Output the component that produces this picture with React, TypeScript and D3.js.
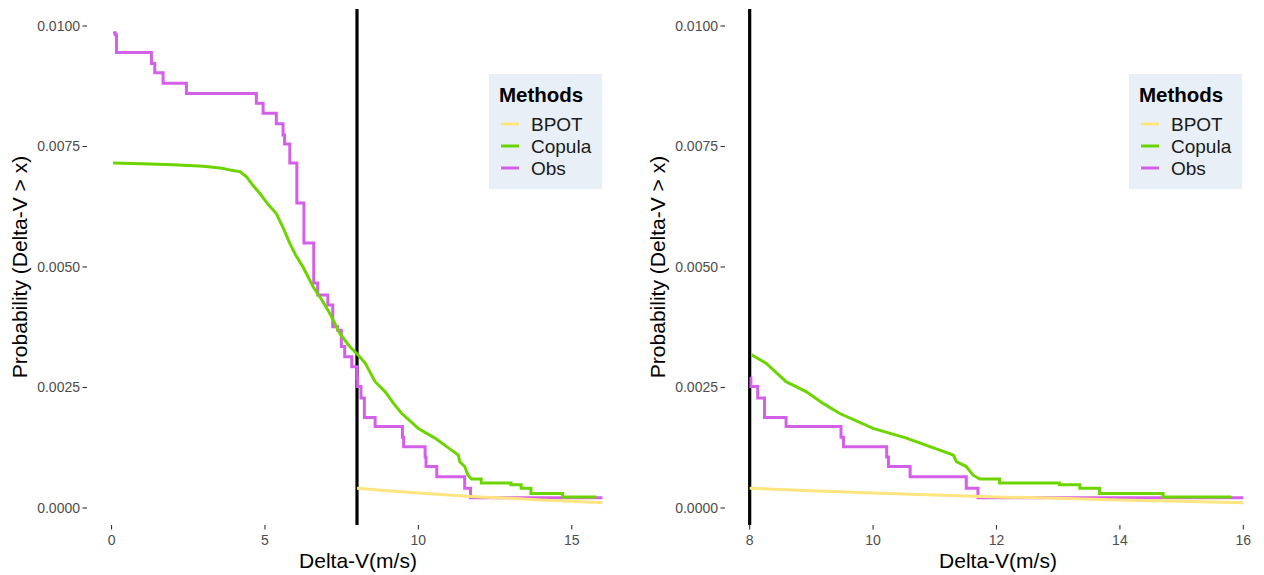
import React from "react";
import * as d3 from "d3";

// ---- data ----
const obsX = [0.05, 0.12, 0.16, 1.30, 1.41, 1.68, 2.44, 4.72, 4.94, 5.37, 5.59, 5.64, 5.81, 6.04, 6.27, 6.59, 6.72, 7.05, 7.21, 7.37, 7.49, 7.60, 7.83, 8.0, 8.02, 8.13, 8.24, 8.59, 9.48, 9.52, 10.22, 10.25, 10.6, 11.51, 11.70, 16.0];
const obsP = [0.00986, 0.00982, 0.00945, 0.00922, 0.00903, 0.00881, 0.0086, 0.0084, 0.00819, 0.00797, 0.00774, 0.00755, 0.00716, 0.00633, 0.0055, 0.00467, 0.00442, 0.00421, 0.00376, 0.00369, 0.00335, 0.00314, 0.00293, 0.00269, 0.00252, 0.00228, 0.00188, 0.00169, 0.00147, 0.00127, 0.00106, 0.00086, 0.00065, 0.00041, 0.00021, 0.00021];

const copX = [0.05, 1.0, 2.0, 3.0, 3.6, 3.95, 4.18, 4.4, 4.6, 4.83, 5.1, 5.37, 5.6, 5.81, 6.0, 6.24, 6.57, 6.85, 7.11, 7.44, 7.76, 8.03, 8.27, 8.59, 8.92, 9.19, 9.46, 10.0, 10.54, 11.08, 11.30, 11.35, 11.51, 11.62, 11.73, 12.05, 12.05, 13.02, 13.02, 13.35, 13.35, 13.67, 13.67, 14.7, 14.7, 15.8];
const copP = [0.00716, 0.00714, 0.00712, 0.00709, 0.00705, 0.007, 0.00698, 0.00687, 0.0067, 0.00653, 0.0063, 0.00611, 0.0058, 0.00549, 0.00525, 0.005, 0.00459, 0.00432, 0.00404, 0.00362, 0.00335, 0.00318, 0.003, 0.00262, 0.00241, 0.00217, 0.00196, 0.00165, 0.00145, 0.0012, 0.0011, 0.00096, 0.00086, 0.00068, 0.0006, 0.0006, 0.00052, 0.00052, 0.00048, 0.00048, 0.00041, 0.00041, 0.0003, 0.0003, 0.00023, 0.00023];

const bpotX = [8, 9, 10, 11, 12, 13, 14, 15, 16];
const bpotP = [0.00041, 0.00036, 0.00031, 0.00027, 0.00023, 0.0002, 0.000166, 0.00014, 0.00011];

const yTicks = [0, 0.0025, 0.005, 0.0075, 0.01];
const leftXTicks = [0, 5, 10, 15];
const rightXTicks = [8, 10, 12, 14, 16];
const methods = ["BPOT", "Copula", "Obs"];
const threshold = 8;

const COLORS: Record<string, string> = { BPOT: "#FFE57F", Copula: "#6CD500", Obs: "#D45FE8" };
const FONT = "'Liberation Sans', Arial, Helvetica, sans-serif";

type Pt = [number, number];
const zip = (xs: number[], ps: number[]): Pt[] => xs.map((x, i) => [x, ps[i]] as Pt);

function Panel({ id, x0, x1, xDomain, xTicks, minX, titleX, yLabelX, legendX }: any) {
  const y = d3.scaleLinear().domain([-0.000353, 0.010353]).range([525, 9]);
  const x = d3.scaleLinear().domain(xDomain).range([x0, x1]);
  const filt = (pts: Pt[]) => pts.filter((d) => d[0] >= minX);
  const obs = filt(zip(obsX, obsP));
  const cop = filt(zip(copX, copP));
  const bpot = filt(zip(bpotX, bpotP));
  const stepLine = d3.line<Pt>().x((d) => x(d[0])).y((d) => y(d[1])).curve(d3.curveStepAfter);
  const lin = d3.line<Pt>().x((d) => x(d[0])).y((d) => y(d[1]));
  const top = y.range()[1];
  const bot = y.range()[0];
  const midY = (top + bot) / 2;
  return (
    <g fontFamily={FONT}>
      <defs>
        <clipPath id={id}>
          <rect x={x0} y={top} width={x1 - x0} height={bot - top} />
        </clipPath>
      </defs>
      {yTicks.map((t) => (
        <g key={t}>
          <line x1={x0 - 4.5} x2={x0} y1={y(t)} y2={y(t)} stroke="#333" strokeWidth={1.1} />
          <text x={x0 - 7} y={y(t)} dy="0.35em" textAnchor="end" fontSize={14} fill="#4D4D4D">
            {d3.format(".4f")(t)}
          </text>
        </g>
      ))}
      {xTicks.map((t: number) => (
        <g key={t}>
          <line x1={x(t)} x2={x(t)} y1={bot} y2={bot + 4.5} stroke="#333" strokeWidth={1.1} />
          <text x={x(t)} y={545} textAnchor="middle" fontSize={14} fill="#4D4D4D">
            {t}
          </text>
        </g>
      ))}
      <g clipPath={`url(#${id})`}>
        <line x1={x(threshold)} x2={x(threshold)} y1={top} y2={bot} stroke="#000" strokeWidth={3.2} />
        <path d={stepLine(obs) || ""} fill="none" stroke={COLORS.Obs} strokeWidth={3} />
        <path d={lin(cop) || ""} fill="none" stroke={COLORS.Copula} strokeWidth={3} />
        <path d={lin(bpot) || ""} fill="none" stroke={COLORS.BPOT} strokeWidth={3} />
      </g>
      <text x={titleX} y={568} textAnchor="middle" fontSize={21} fill="#000">
        Delta-V(m/s)
      </text>
      <text transform={`translate(${yLabelX},${midY}) rotate(-90)`} textAnchor="middle" fontSize={21} fill="#000">
        Probability (Delta-V &gt; x)
      </text>
      <g transform={`translate(${legendX},74)`}>
        <rect x={0} y={0} width={113} height={115} fill="#E8EFF7" />
        <text x={10} y={28} fontSize={20.5} fontWeight="bold" fill="#000">
          Methods
        </text>
        {methods.map((m, i) => (
          <g key={m} transform={`translate(0,${50 + i * 22})`}>
            <line x1={12} x2={30} y1={0} y2={0} stroke={COLORS[m]} strokeWidth={3} />
            <text x={42} y={0} dy="0.36em" fontSize={19} fill="#1a1a1a">
              {m}
            </text>
          </g>
        ))}
      </g>
    </g>
  );
}

export default function App() {
  return (
    <svg width={1264} height={575} style={{ position: "absolute", left: 0, top: 0, background: "#fff" }}>
      <rect width={1264} height={575} fill="#fff" />
      <Panel id="clipL" x0={87} x1={627} xDomain={[-0.8, 16.8]} xTicks={leftXTicks} minX={-Infinity} titleX={358} yLabelX={27} legendX={489} />
      <Panel id="clipR" x0={725} x1={1268} xDomain={[7.6, 16.4]} xTicks={rightXTicks} minX={threshold} titleX={998} yLabelX={665} legendX={1129} />
    </svg>
  );
}
